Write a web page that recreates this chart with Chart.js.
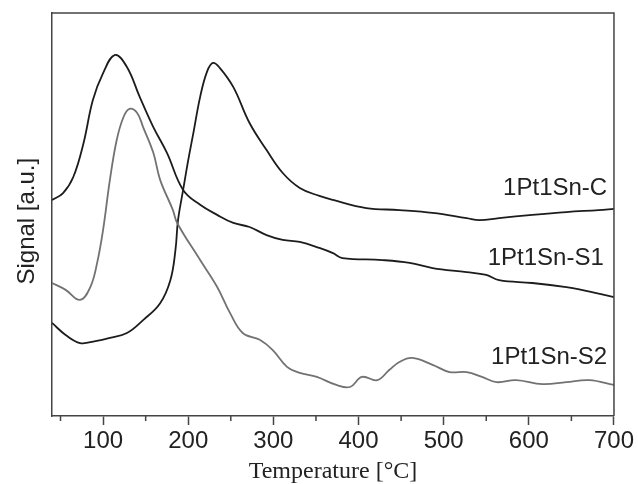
<!DOCTYPE html>
<html>
<head>
<meta charset="utf-8">
<script src="https://cdn.jsdelivr.net/npm/chart.js@4.4.0/dist/chart.umd.min.js"></script>
<style>
    html, body { margin: 0; padding: 0; background: #fff; }
    #wrap { width: 638px; height: 484px; }
</style>
</head>
<body>
<div id="wrap"><canvas id="chart" width="638" height="484"></canvas></div>
<script>
// TPR curves (signal in arbitrary units, 0..100 = frame bottom..top)
const tempC = [40, 56, 73, 91, 108, 128, 147, 167, 179, 185, 188, 194, 200, 206, 214, 222, 229, 237, 253, 272, 292, 311, 331, 354, 370, 409, 448, 487, 527, 542, 565, 604, 644, 682, 700];
const sigC = [23.1, 20.1, 18.1, 18.6, 19.4, 20.6, 23.8, 28.0, 33.7, 41.2, 48.6, 56.1, 63.5, 70.2, 79.2, 85.4, 87.6, 86.4, 81.6, 72.7, 66.0, 60.3, 56.6, 54.6, 53.6, 51.6, 51.1, 50.4, 49.1, 48.6, 49.1, 49.9, 50.6, 51.1, 51.4];

const tempS1 = [40, 53, 65, 77, 88, 100, 114, 128, 143, 159, 175, 194, 214, 234, 253, 272, 292, 311, 331, 354, 370, 381, 428, 460, 487, 527, 550, 565, 604, 644, 662, 700];
const sigS1 = [53.6, 55.3, 59.3, 67.7, 78.4, 85.1, 89.6, 86.6, 79.2, 71.7, 65.3, 56.1, 52.4, 49.9, 47.9, 46.9, 44.9, 43.7, 43.2, 41.7, 40.4, 39.2, 38.7, 38.0, 36.7, 35.7, 35.0, 33.7, 33.0, 32.0, 31.3, 29.5];

const tempS2 = [40, 56, 73, 85, 93, 100, 108, 116, 124, 131, 140, 147, 159, 167, 182, 187, 214, 234, 249, 264, 284, 299, 316, 331, 351, 374, 390, 404, 422, 436, 448, 463, 487, 507, 527, 545, 562, 585, 616, 644, 671, 700];
const sigS2 = [33.0, 31.3, 28.8, 32.0, 38.0, 46.2, 58.6, 68.5, 74.2, 76.2, 75.2, 71.7, 65.3, 58.6, 51.1, 47.9, 38.7, 32.0, 25.6, 20.6, 18.9, 16.4, 12.2, 10.7, 9.7, 7.7, 7.2, 9.7, 8.9, 11.4, 13.4, 14.4, 12.7, 10.9, 10.9, 9.7, 8.4, 8.9, 7.9, 8.4, 8.9, 7.7];

const xTicks = [100, 200, 300, 400, 500, 600, 700];
const xMinorTicks = [50, 150, 250, 350, 450, 550, 650];

const labelNames = ['1Pt1Sn-C', '1Pt1Sn-S1', '1Pt1Sn-S2'];
const labelX = [692, 688, 692];
const labelY = [56.6, 39.0, 14.6];

const toPts = (xs, ys) => xs.map((x, i) => ({ x, y: ys[i] }));
const SANS = "'Liberation Sans', Arial, sans-serif";
const SERIF = "'Liberation Serif', 'Times New Roman', serif";
const AXIS = '#444';

// frame top/right, minor ticks and curve names
const extras = {
    id: 'extras',
    afterDraw(chart) {
        const { ctx, chartArea: a, scales: { x, y } } = chart;
        ctx.save();
        ctx.strokeStyle = AXIS;
        ctx.lineWidth = 1.5;
        ctx.beginPath();
        ctx.moveTo(a.left, a.top);
        ctx.lineTo(a.right, a.top);
        ctx.lineTo(a.right, a.bottom);
        xMinorTicks.forEach(v => {
            const px = x.getPixelForValue(v);
            ctx.moveTo(px, a.bottom);
            ctx.lineTo(px, a.bottom + 5);
        });
        ctx.stroke();

        ctx.fillStyle = '#222';
        ctx.font = '24px ' + SANS;
        ctx.textAlign = 'right';
        ctx.textBaseline = 'middle';
        labelNames.forEach((t, i) => {
            ctx.fillText(t, x.getPixelForValue(labelX[i]), y.getPixelForValue(labelY[i]));
        });
        ctx.restore();
    }
};

new Chart(document.getElementById('chart'), {
    type: 'line',
    data: {
        datasets: [
            { label: '1Pt1Sn-S2', data: toPts(tempS2, sigS2), borderColor: '#727272' },
            { label: '1Pt1Sn-S1', data: toPts(tempS1, sigS1), borderColor: '#1c1c1c' },
            { label: '1Pt1Sn-C', data: toPts(tempC, sigC), borderColor: '#1c1c1c' }
        ]
    },
    options: {
        responsive: false,
        animation: false,
        layout: { padding: { top: 13, right: 23, left: 0, bottom: 0 } },
        elements: {
            point: { radius: 0 },
            line: { borderWidth: 1.8, tension: 0.4, fill: false }
        },
        plugins: { legend: { display: false }, tooltip: { enabled: false } },
        scales: {
            x: {
                type: 'linear',
                min: 40,
                max: 700,
                afterBuildTicks: s => { s.ticks = xTicks.map(v => ({ value: v })); },
                afterFit: s => { s.height = 68; },
                grid: { display: true, drawOnChartArea: false, drawTicks: true, tickLength: 9, tickColor: AXIS, tickWidth: 1.5 },
                border: { display: true, color: AXIS, width: 1.5 },
                ticks: { color: '#222', font: { family: SANS, size: 24, lineHeight: 1 }, padding: 4, maxRotation: 0, autoSkip: false },
                title: { display: true, text: 'Temperature [°C]', color: '#222', font: { family: SERIF, size: 24, lineHeight: 1 }, padding: { top: 0, bottom: 0 } }
            },
            y: {
                type: 'linear',
                min: 0,
                max: 100,
                afterFit: s => { s.width = 52; },
                grid: { display: false },
                border: { display: true, color: AXIS, width: 1.5 },
                ticks: { display: false },
                title: { display: true, text: 'Signal [a.u.]  ', color: '#222', font: { family: SANS, size: 24, lineHeight: 1 }, padding: { top: 15, bottom: 0 } }
            }
        }
    },
    plugins: [extras]
});
</script>
</body>
</html>
